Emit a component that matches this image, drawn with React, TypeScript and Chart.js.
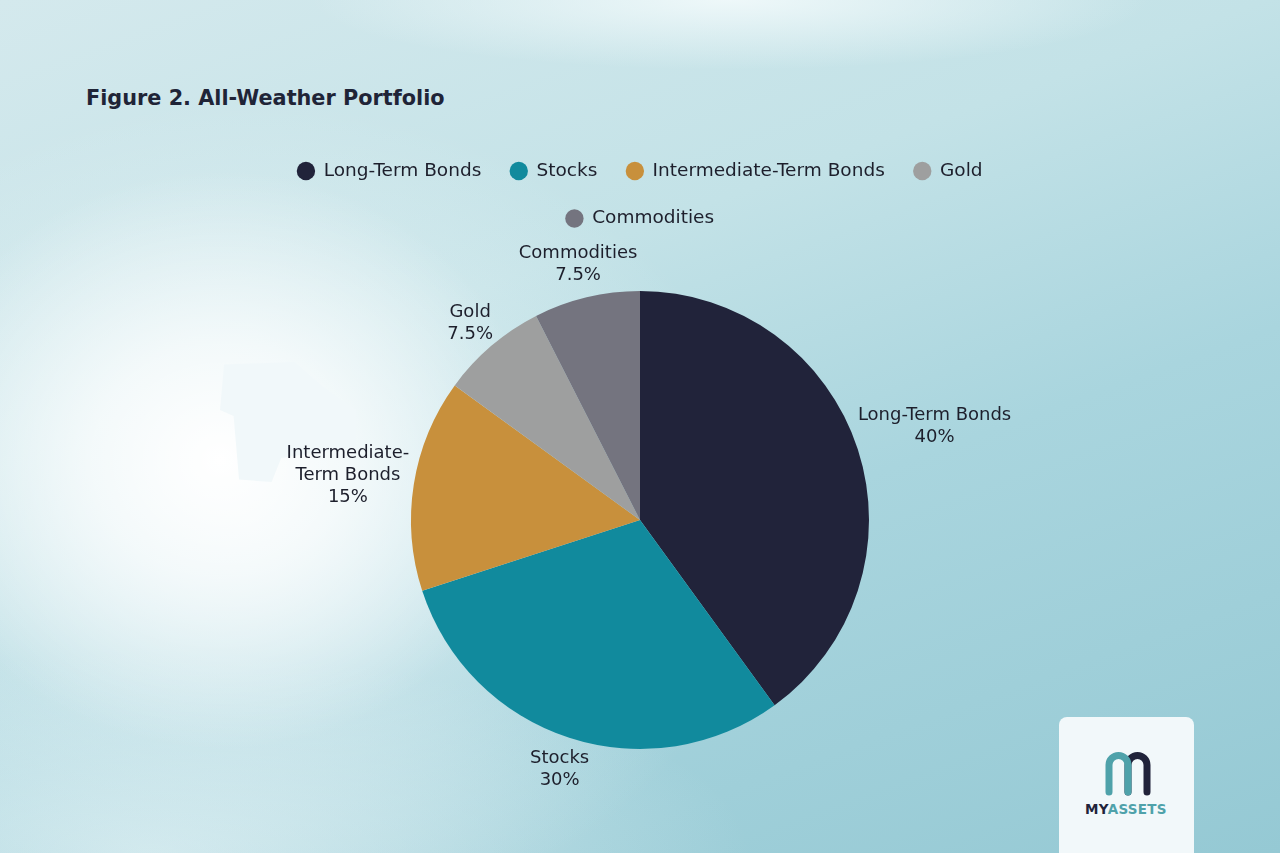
import React, { useEffect, useRef } from "react";
import { Chart, registerables } from "chart.js";

Chart.register(...registerables);

const categories = ["Long-Term Bonds", "Stocks", "Intermediate-Term Bonds", "Gold", "Commodities"];
const weights = [40, 30, 15, 7.5, 7.5];
const sliceLabelLines = [["Long-Term Bonds"], ["Stocks"], ["Intermediate-", "Term Bonds"], ["Gold"], ["Commodities"]];
const colors = ["#21233a", "#118a9d", "#c8903c", "#9e9f9f", "#74747f"];

const FONT = "'DejaVu Sans', sans-serif";
const TEXT = "#1d1f2c";

const outerLabels = {
  id: "outerLabels",
  afterDatasetsDraw(chart: any) {
    const ctx = chart.ctx;
    const meta = chart.getDatasetMeta(0);
    ctx.save();
    ctx.font = `18px ${FONT}`;
    ctx.fillStyle = TEXT;
    ctx.textAlign = "center";
    ctx.textBaseline = "middle";
    const lh = 22;
    meta.data.forEach((arc: any, i: number) => {
      const p = arc.getProps(["x", "y", "startAngle", "endAngle", "outerRadius"], true);
      const mid = (p.startAngle + p.endAngle) / 2;
      const dx = Math.cos(mid);
      const dy = Math.sin(mid);
      const lines = [...sliceLabelLines[i], `${weights[i]}%`];
      const w = Math.max(...lines.map((l) => ctx.measureText(l).width));
      const h = lines.length * lh;
      const dist = p.outerRadius + 1 + Math.abs(dx) * w / 2 + Math.abs(dy) * h / 2;
      const cx = p.x + dx * dist;
      const cy = p.y + dy * dist + 2;
      lines.forEach((l, j) => {
        ctx.fillText(l, cx, cy - h / 2 + lh / 2 + j * lh);
      });
    });
    ctx.restore();
  },
};

function ChartCanvas() {
  const ref = useRef<HTMLCanvasElement>(null);
  useEffect(() => {
    if (!ref.current) return;
    const chart = new Chart(ref.current, {
      type: "pie",
      data: {
        labels: categories,
        datasets: [
          {
            data: weights,
            backgroundColor: colors,
            borderWidth: 0,
            radius: 229,
          } as any,
        ],
      },
      options: {
        animation: false,
        responsive: false,
        maintainAspectRatio: false,
        layout: { padding: { top: 132.75, bottom: 50.75, left: 220, right: 220 } },
        plugins: {
          tooltip: { enabled: false },
          legend: {
            position: "top",
            labels: {
              usePointStyle: true,
              pointStyle: "circle",
              boxWidth: 17,
              boxHeight: 13,
              padding: 29,
              color: TEXT,
              font: { family: FONT, size: 18.5 },
            },
          },
        },
      },
      plugins: [outerLabels],
    });
    return () => chart.destroy();
  }, []);
  return <canvas ref={ref} width={1280} height={853} style={{ position: "absolute", left: 0, top: 0 }} />;
}

export default function App() {
  return (
    <div
      style={{
        position: "fixed",
        left: 0,
        top: 0,
        width: 1280,
        height: 853,
        overflow: "hidden",
        background:
          "radial-gradient(ellipse 320px 290px at 220px 460px, rgba(255,255,255,1) 0%, rgba(255,255,255,0.7) 40%, rgba(255,255,255,0) 100%)," +
          "radial-gradient(ellipse 520px 420px at 250px 520px, rgba(248,252,253,0.65) 0%, rgba(248,252,253,0) 100%)," +
          "radial-gradient(ellipse 420px 70px at 730px 0px, rgba(242,250,251,0.9) 0%, rgba(242,250,251,0) 100%)," +
          "radial-gradient(ellipse 600px 200px at 150px 853px, rgba(215,236,240,0.8) 0%, rgba(215,236,240,0) 100%)," +
          "linear-gradient(160deg, #d4e9ed 0%, #c3e2e7 35%, #a9d5de 60%, #95c9d4 100%)",
        fontFamily: FONT,
      }}
    >
      <div
        style={{
          position: "absolute",
          left: 220,
          top: 362,
          width: 136,
          height: 120,
          background: "#f1f8fa",
          clipPath: "polygon(3% 2%, 55% 0%, 75% 20%, 100% 40%, 100% 70%, 45% 80%, 38% 100%, 14% 98%, 10% 45%, 0% 40%)",
        }}
      />
      <div
        style={{
          position: "absolute",
          left: 86,
          top: 86,
          fontSize: 20.8,
          fontWeight: 700,
          color: "#1f2437",
          whiteSpace: "nowrap",
        }}
      >
        Figure 2. All-Weather Portfolio
      </div>
      <ChartCanvas />
      <div
        style={{
          position: "absolute",
          left: 1059,
          top: 717,
          width: 135,
          height: 150,
          borderRadius: 8,
          background: "#f2f8fa",
        }}
      >
        <svg width={135} height={136} style={{ position: "absolute", left: 0, top: 0 }}>
          <path d="M 69 75 V 48 A 9.5 9.5 0 0 1 88 48 V 75" fill="none" stroke="#21233a" strokeWidth={7} strokeLinecap="round" />
          <path d="M 50 75 V 48 A 9.5 9.5 0 0 1 69 48 V 75" fill="none" stroke="#4fa2aa" strokeWidth={7} strokeLinecap="round" />
          <text x={67} y={97} textAnchor="middle" fontFamily={FONT} fontWeight={700} fontSize={13.5} letterSpacing={0.3}>
            <tspan fill="#21233a">MY</tspan>
            <tspan fill="#4fa2aa">ASSETS</tspan>
          </text>
        </svg>
      </div>
    </div>
  );
}
